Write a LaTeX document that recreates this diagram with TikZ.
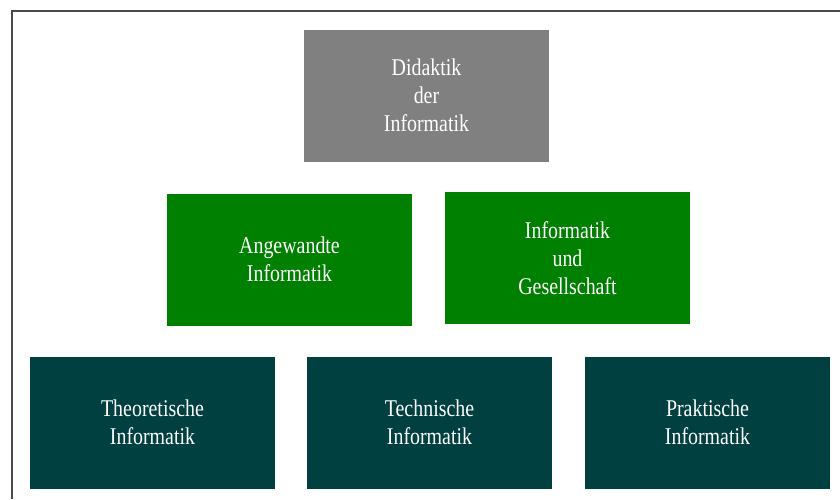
\documentclass[tikz,border=0pt]{standalone}
\usepackage{fontspec}
\setmainfont{Liberation Serif}[FakeStretch=0.83]
\usetikzlibrary{positioning}

\definecolor{topgray}{HTML}{808080}
\definecolor{midgreen}{HTML}{008000}
\definecolor{basegreen}{HTML}{004040}
\definecolor{framegray}{HTML}{4A4A4A}

\begin{document}
\begin{tikzpicture}[
  box/.style={
    rectangle,
    align=center,
    text=white,
    font=\fontsize{12pt}{14pt}\selectfont,
    minimum width=122.5pt,
    minimum height=66pt,
    inner sep=0pt,
    outer sep=0pt
  },
  top/.style={box, fill=topgray},
  mid/.style={box, fill=midgreen},
  base/.style={box, fill=basegreen},
  frame/.style={draw=framegray, line width=1pt}
]
\useasboundingbox[fill=white] (0,0) rectangle (420pt,-249.5pt);
\draw[frame] (6pt,-249.5pt) -- (6pt,-5.5pt) -- (420pt,-5.5pt);

\node[top] (didaktik) at (213.25pt,-47.75pt) {Didaktik\\der\\Informatik};

\node[mid, below=16pt of didaktik, xshift=-68.5pt] (angewandte) {Angewandte\\Informatik};
\node[mid, right=16.5pt of angewandte, yshift=0.75pt] (gesellschaft) {Informatik\\und\\Gesellschaft};

\node[base, below=15.5pt of angewandte, xshift=-68.5pt] (theoretische) {Theoretische\\Informatik};
\node[base, right=16pt of theoretische] (technische) {Technische\\Informatik};
\node[base, right=16.5pt of technische] (praktische) {Praktische\\Informatik};
\end{tikzpicture}
\end{document}
